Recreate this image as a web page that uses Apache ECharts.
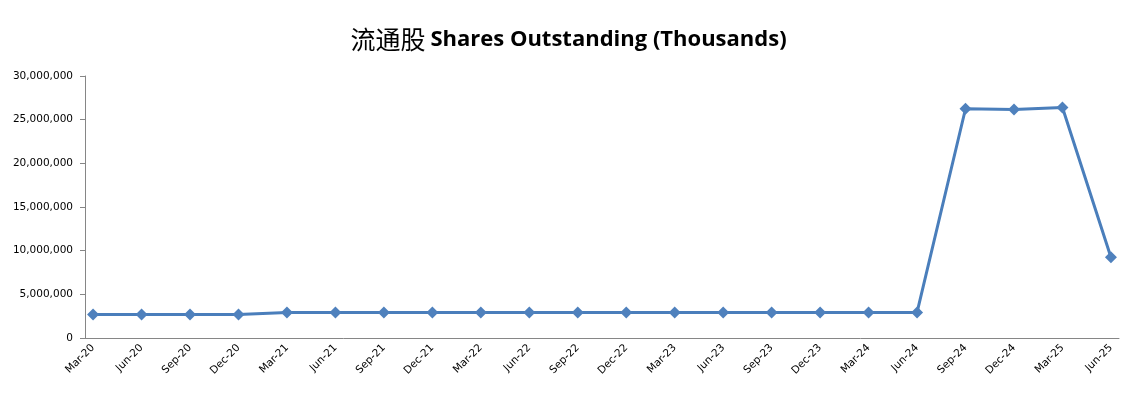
<!DOCTYPE html>
<html>
<head>
<meta charset="utf-8">
<script src="https://cdn.jsdelivr.net/npm/echarts@6/dist/echarts.min.js"></script>
<style>html,body{margin:0;padding:0;background:#fff}#c{width:1137px;height:393px}</style>
</head>
<body>
<div id="c"></div>
<script>
const quarters = ['Mar-20','Jun-20','Sep-20','Dec-20','Mar-21','Jun-21','Sep-21','Dec-21','Mar-22','Jun-22','Sep-22','Dec-22','Mar-23','Jun-23','Sep-23','Dec-23','Mar-24','Jun-24','Sep-24','Dec-24','Mar-25','Jun-25'];
const shares = [2700000,2700000,2700000,2700000,2930000,2930000,2930000,2930000,2930000,2930000,2930000,2930000,2930000,2930000,2930000,2930000,2930000,2930000,26250000,26150000,26400000,9250000];
const yTicks = [0,5000000,10000000,15000000,20000000,25000000,30000000];
const monthNames = ['Jan','Feb','Mar','Apr','May','Jun','Jul','Aug','Sep','Oct','Nov','Dec'];

// monthly category axis: quarter values at their month, other months empty
const months = [], monthVals = [];
quarters.forEach((q, i) => {
  months.push(q); monthVals.push(shares[i]);
  if (i < quarters.length - 1) {
    const [m, y] = q.split('-');
    const mi = monthNames.indexOf(m);
    for (let k = 1; k <= 2; k++) {
      const n = mi + k;
      const yy = +y + Math.floor(n / 12);
      months.push(monthNames[n % 12] + '-' + String(yy).padStart(2, '0'));
      monthVals.push(null);
    }
  }
});

const chart = echarts.init(document.getElementById('c'), null, {renderer: 'canvas'});
chart.setOption({
  backgroundColor: '#fff',
  animation: false,
  title: {
    text: '{cn|流通股} {en|Shares Outstanding (Thousands)}',
    left: 'center',
    top: 22,
    textStyle: {
      rich: {
        cn: {fontFamily: 'Noto Sans CJK SC', fontSize: 25, fontWeight: 'normal', color: '#000'},
        en: {fontFamily: 'Open Sans', fontSize: 22, fontWeight: 'bold', color: '#000'}
      }
    }
  },
  grid: {left: 85, right: 18, top: 76, bottom: 55, containLabel: false},
  xAxis: {
    type: 'category',
    data: months,
    boundaryGap: true,
    axisLine: {lineStyle: {color: '#868686', width: 1}},
    axisTick: {interval: 2, length: 5, lineStyle: {color: '#868686'}},
    axisLabel: {interval: 2, rotate: 45, margin: 8, color: '#000', fontFamily: 'DejaVu Sans', fontSize: 10.5},
    splitLine: {show: false}
  },
  yAxis: {
    type: 'value',
    min: yTicks[0],
    max: yTicks[yTicks.length - 1],
    interval: yTicks[1] - yTicks[0],
    axisLine: {show: true, lineStyle: {color: '#868686', width: 1}},
    axisTick: {show: true, inside: false, length: 5, lineStyle: {color: '#868686'}},
    axisLabel: {margin: 12, color: '#000', fontFamily: 'DejaVu Sans', fontSize: 10.5,
      formatter: v => v.toLocaleString('en-US')},
    splitLine: {show: false}
  },
  series: [{
    type: 'line',
    data: monthVals,
    connectNulls: true,
    showAllSymbol: true,
    symbol: 'diamond',
    symbolSize: 12,
    lineStyle: {color: '#4A7EBB', width: 3},
    itemStyle: {color: '#4F81BD'}
  }]
});
</script>
</body>
</html>
